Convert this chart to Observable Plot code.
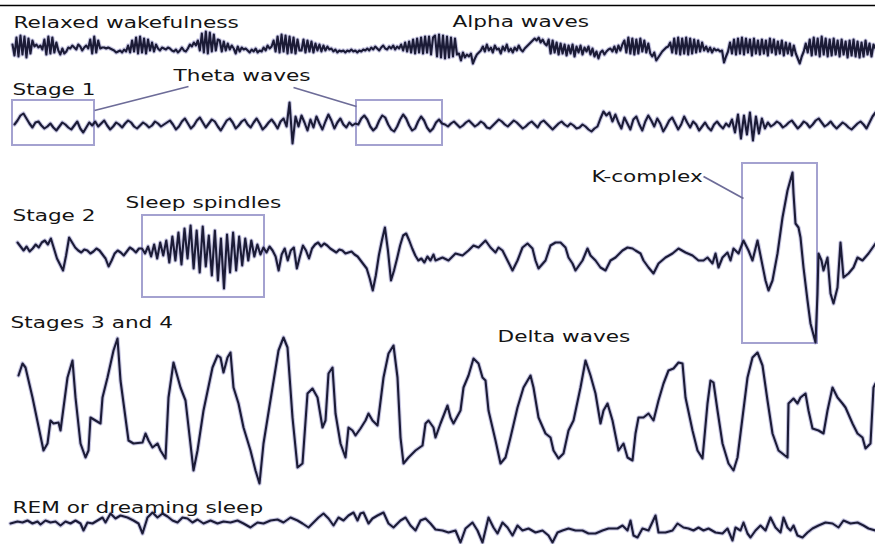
<!DOCTYPE html>
<html><head><meta charset="utf-8">
<script src="https://cdn.jsdelivr.net/npm/d3@7"></script>
<script src="https://cdn.jsdelivr.net/npm/@observablehq/plot@0.6"></script>
<style>html,body{margin:0;padding:0;background:#fff;overflow:hidden}</style>
</head><body><div id="chart"></div>
<script>
// EEG amplitudes (relative to each trace's resting level), uniformly sampled
const alphaWaves = [
4,-7,11,-8,13,-6,12,-9,10,-5,8, 2,4,1,3,-1, 9,-6,12,-5,11,-4,6, -2,-6,0,-5,-3,1,
0,3,1,-1,4,2,-2,1,3,0, 9,-5,12,-4,8, 0,1,1,0,1,0,-1, -2,-4,-3,-2,-4,-1,-3,
3,-4,8,-3,11,-5,12,-4,10,-5,9,-2,6, -3,4,0,-2,1,0,-1,1,0,-2, -3,-1,-4,-2,1,-2,-3,
0,4,2,6,3,8, -2,15,-4,17,-5,16,-3,14,-2,9, 8,-3,7,-2,5,-1,3,0,-5,2,-3,1,-1,0,
-2,-4,-1,-3,0,-4,-2,-3,1,-2,3,0,2, 8,-3,12,-4,14,-3,13,-5,12,-4,11,-5,9,-2,
-2,9,-4,8,-3,7,-4,5,-2,4,-3,3,-2,2,-1,0, -3,-1,-4,-2,-3,-2,-4,-2,-3,-1,-3,-2,-4,-2,-3,-1,-2,
0,-2,1,-1,2,0,-2,1,3,0,-1,2,0,3,-1,2,0, 4,-2,6,-3,7,-4,9,-5,10,-4,11,-5,12,-4,12,-6,11,
13,-8,14,-9,13,-10,12,-9,11,-8,10,-6, -5,-12,-4,-9,-6,-8,-5,-15,-10,-6,-4,-2,
2,-3,4,-2,1,-4,3,-1,0,-5,2,-2,4,-3,0,-4,1,-2,3,-1,-3,0,2, 4,6,8,10,8,11,6,9,5,
3,9,-5,8,-4,6,-6,5,-5,4,-7,3,-5,4,-8,2,-4,3,-6,1,-3,2,-6,0, -8,-3,-10,-4,-2,-6,-3,-1,
0,-3,2,-4,3,-2,4, 8,-4,11,-5,10,-6,9,-5,10,-3,8,-4,5, -5,-8,-4,-12,-9,-6,-3,-1,1,2,
6,-4,10,-5,11,-6,10,-5,11,-6,10,-5,9,-4,8,-3,6, -2,2,-3,1,-4,0,-2,-1,-3,-2, -14,-8,-3,
6,-5,9,-6,10,-5,11,-6,10,-4,9,-7,10,-5,8,-6,9,-5,8,-7,10,-4,9,-6,7,-5,8,-7,6,-5,5,-7,3,-5,
-10,-15,-8,-3,
5,-4,9,-7,11,-6,10,-8,12,-6,10,-8,9,-7,10,-6,8,-8,9,-6,7,-9,8,-7,9,-8,7,-9,6,-8,8,-6,5,-8,4,0
];
const stage1Waves = [
0,4,9,11,6,1,-3,2,3,-1,-4,-2,1,-3,-6,-2,2,0,-3,-5,-1,3,-4,-8,-3,2,-1,
3,-2,1,4,-1,-5,-2,2,0,-3,1,4,2,-2,-4,-1,2,0,-3,-1,3,1,-2,0,2,
4,0,-5,-2,3,6,1,-4,-1,4,7,2,-3,1,5,3,-2,-6,-1,4,6,2,-4,-1,3,5,0,-3,2,6,1,-5,-2,
2,5,1,-4,3,6,-2, 22,-19,8,
-2,9,2,-6,5,-3,8,1,-5,3,10,4,-4,2,6,0,-3,2,-1,1,
0,6,9,5,-2,-6,-3,4,9,7,0,-5,-7,-2,5,10,6,-1,-6,-4,3,8,4,-3,-7,-4,2,5,1,
0,-2,1,3,0,-3,-1,2,4,1,-2,0,3,1,-3,-4,-1,2,5,3,0,-2,1,4,2,-1,-4,-2,1,3,0,-3,2,4,1,-2,-5,-2,1,3,0,-2,1,-1,-4,-3,0,-2,-5,-7,-4,-2,
6,13,
9,12,3,10,2,-4,7,1,-5,5,8,0,-6,3,9,4,-2,6,1,-7,-2,4,7,1,-5,0,8,2,-3,3,0,-6,-2,2,-3,-6,0,3,-1,-4,1,-2,
5,-8,10,-14,9,-10,12,-16,8,-9,6,-4,2,
-2,0,3,1,-3,-1,2,4,0,-4,-1,3,1,-3,0,4,6,2,-2,0,3,-1,-4,-1,2,0,-3,-5,-2,1,3,0,-4,2,8,12
];
const stage2Waves = [
8,4,0,4,-1,2,6,3,8,10,6,12,2,-8,-14,-20,-5, 13,8,3,0,
-2,1,0,-3,-1,2,0,-4,-8,-16,-10,-3,0,-2,-5,-1,3,1,-2,2,
2,-3,4,-6,6,-8,8,-5,10,-12,14,-10,18,-14,22,-8,25,-18,20,-22,24,-16,15,-25,20,-30,12,-38,16,-22,18,-20,14,-15,12,-10,10,-6,6,-4,3,-2,
4,0,-6,-20,-4,2,-10,0,3,-18,-6,5,0,-8,2,6,8,4,7,5,2,0,-2,1,0,-3,-2,-1,-4,-6,-10,-14,
-18,-28,-40,-25,-5,10,23,0,-30,-20,-8,5,15,17,10,2,-5,-10, -8,-12,-6,-10,-4
];
// [time, amplitude] readings
const stage2Tail = [[435,-10],[442,-7],[448,-10],[455,-3],[462,-5],[468,0],[473,5],[478,3],[485,10],[490,3],[495,-2],[498,3],[502,0],[507,-10],[512,-20],[517,-10],[522,3],[527,7],[532,2],[535,-10],[538,-18],[545,-10],[550,5],[555,8],[560,8],[565,3],[568,-7],[572,-13],[575,-20],[582,-10],[587,2],[590,-5],[595,-10],[600,-17],[605,-20],[610,-10],[615,-7],[622,0],[627,3],[632,2],[635,0],[640,-3],[643,-10],[648,-17],[653,-23],[658,-13],[665,-7],[672,-3],[678,2],[685,-2],[692,-5],[698,-10],[703,-10],[707,-7],[712,-13],[715,-3],[718,-17],[722,-7],[727,-2],[730,-10],[733,2],[738,-3],[743,10],[748,0],[752,-10],[757,10],[760,-5],[765,-30],[768,-40],[772,-30],[777,-3],[782,33],[787,60],[792,78],[793,57],[795,27],[798,23],[800,13],[803,-17],[807,-50],[810,-73],[815,-92],[817,-43],[818,-3],[821,-10],[823,-20],[827,-7],[830,-43],[833,-53],[837,-37],[840,8],[843,-27],[848,-23],[853,-17],[857,-7],[862,-10],[868,-3],[875,7]];
const deltaWaves = [[18,35],[22,47],[25,43],[32,13],[43,-40],[47,-33],[50,-10],[53,-13],[58,-12],[60,-20],[67,33],[72,50],[75,13],[80,-33],[85,-47],[88,-40],[90,-7],[95,-10],[100,-13],[102,13],[107,33],[113,60],[117,72],[120,30],[128,-30],[133,-33],[142,-32],[145,-23],[148,-30],[152,-37],[157,-33],[160,-40],[165,-48],[168,13],[173,48],[180,23],[185,10],[193,-60],[197,-40],[203,0],[212,43],[217,55],[220,53],[223,38],[227,53],[230,58],[233,23],[238,7],[243,-17],[250,-40],[255,-60],[259,-73],[263,-33],[272,23],[278,60],[283,73],[287,63],[292,-7],[297,-57],[302,-53],[307,17],[312,22],[317,13],[322,-17],[325,-10],[328,37],[332,43],[335,-3],[340,-33],[345,-47],[348,-17],[352,-20],[355,-25],[360,-18],[365,-10],[368,-3],[372,-10],[377,-15],[383,33],[388,57],[393,65],[397,33],[400,-27],[403,-53],[408,-47],[415,-40],[422,-35],[425,-13],[428,-10],[433,-17],[435,-27],[440,-13],[447,5],[450,-7],[453,-13],[460,0],[463,23],[468,35],[473,52],[478,47],[482,33],[485,30],[488,0],[495,-30],[500,-53],[505,-47],[510,-27],[517,3],[523,23],[530,35],[533,23],[538,-7],[545,-23],[550,-27],[553,-40],[558,-48],[563,-43],[568,-20],[573,-10],[580,23],[585,50],[590,35],[595,17],[600,-13],[603,0],[607,7],[612,-10],[618,-40],[623,-33],[627,-47],[632,-50],[635,-23],[638,-7],[643,-7],[648,-3],[653,-10],[658,10],[663,27],[668,40],[673,42],[678,48],[682,47],[685,13],[692,-20],[697,-40],[702,-48],[707,7],[710,30],[713,28],[717,0],[722,-33],[728,-53],[733,-60],[737,-47],[742,-7],[747,33],[752,53],[757,58],[762,45],[767,10],[772,-23],[778,-40],[787,-47],[788,7],[793,12],[797,7],[800,13],[805,17],[808,0],[812,-18],[818,-20],[823,-23],[827,0],[832,23],[837,13],[842,7],[845,3],[852,-13],[857,-23],[862,-27],[865,-38],[870,-33],[873,23],[875,27]];
const remWaves = [[10,4],[17,6],[22,5],[27,7],[32,4],[37,6],[40,3],[45,7],[50,5],[55,6],[60,2],[65,6],[70,4],[75,7],[80,4],[83,-3],[87,5],[92,4],[97,7],[102,10],[105,5],[110,14],[115,9],[120,12],[127,10],[133,7],[138,4],[142,-6],[147,10],[152,15],[157,10],[162,14],[167,11],[172,7],[177,5],[182,10],[187,9],[192,5],[197,8],[203,4],[210,7],[217,4],[223,6],[230,5],[237,7],[243,4],[250,0],[257,5],[263,4],[270,7],[277,8],[283,5],[290,10],[297,7],[302,4],[308,0],[313,5],[318,10],[323,14],[328,9],[333,2],[338,10],[343,7],[348,12],[353,15],[357,7],[360,14],[363,15],[368,4],[372,9],[377,12],[383,15],[388,4],[393,0],[400,7],[405,10],[410,2],[415,-3],[420,7],[425,9],[430,4],[435,-2],[442,-3],[448,-5],[455,-3],[460,-15],[465,-1],[472,5],[477,-3],[482,-15],[488,10],[493,0],[497,-6],[502,5],[507,0],[512,-8],[517,2],[522,-3],[528,-1],[535,-5],[542,-3],[548,-8],[552,-15],[557,-5],[562,-3],[568,-1],[575,-3],[582,-3],[588,-6],[595,-6],[602,-3],[608,-1],[617,-1],[622,2],[627,-3],[630,7],[633,-8],[637,-10],[642,-1],[648,-3],[655,12],[658,-5],[665,-5],[672,-3],[677,4],[683,0],[688,-1],[693,-3],[698,0],[703,-3],[708,-1],[715,-5],[722,-6],[727,-1],[732,-13],[735,0],[740,-3],[743,5],[747,-6],[750,-10],[755,-3],[760,2],[765,-3],[770,10],[775,0],[780,-5],[783,10],[787,0],[790,-3],[793,2],[797,-8],[802,-10],[807,-5],[812,-1],[818,2],[825,5],[832,4],[838,0],[843,7],[850,4],[857,5],[863,2],[868,-1],[875,-3]];

const labelText = ["Relaxed wakefulness","Alpha waves","Theta waves","Stage 1","Sleep spindles","Stage 2","K-complex","Stages 3 and 4","Delta waves","REM or dreaming sleep"];
const labelX = [13,452,173,12,125,12,591,10,497,12];
const labelY = [27,26,80,94,207,220,181,327,341,512];

const boxes = [
  {x1:12,x2:94,y1:100,y2:145},
  {x1:356,x2:442,y1:100,y2:145},
  {x1:142,x2:264,y1:215,y2:297},
  {x1:742,x2:817,y1:163,y2:343}
];
const connectors = [
  {x1:94,y1:110,x2:188,y2:86},
  {x1:293,y1:87,x2:356,y2:106},
  {x1:703,y1:176,x2:743,y2:198}
];
const topRule = [5];

const rowBase = {alpha:48, stage1:124, stage2:250, delta:410, rem:527};
const pts = [];
function addUniform(row, vals, t0, t1){const s=(t1-t0)/(vals.length-1);vals.forEach((v,i)=>pts.push({row,t:t0+i*s,y:rowBase[row]-v}));}
function addPairs(row, pairs){pairs.forEach(([t,v])=>pts.push({row,t,y:rowBase[row]-v}));}
addUniform("alpha", alphaWaves, 12, 875);
addUniform("stage1", stage1Waves, 14, 875);
addUniform("stage2", stage2Waves, 17, 433);
addPairs("stage2", stage2Tail);
addPairs("delta", deltaWaves);
addPairs("rem", remWaves);

const labels = labelText.map((text,i)=>({text,x:labelX[i],y:labelY[i]}));

const svg = Plot.plot({
  width:875, height:544,
  marginTop:0, marginRight:0, marginBottom:0, marginLeft:0,
  x:{domain:[0,875], axis:null},
  y:{domain:[544,0], axis:null},
  style:{fontFamily:"'DejaVu Sans', sans-serif", fontSize:"16px", background:"white"},
  marks:[
    Plot.ruleY(topRule, {x1:0, x2:875, stroke:"#000", strokeWidth:1.6}),
    Plot.rect(boxes, {x1:"x1", x2:"x2", y1:"y1", y2:"y2", fill:"none", stroke:"#a4a2d0", strokeWidth:2}),
    Plot.link(connectors, {x1:"x1", y1:"y1", x2:"x2", y2:"y2", stroke:"#6d6c98", strokeWidth:1.8}),
    Plot.line(pts, {x:"t", y:"y", z:"row", stroke:"#8f8dc6", strokeWidth:4.2, strokeOpacity:0.5, strokeLinejoin:"round"}),
    Plot.line(pts, {x:"t", y:"y", z:"row", stroke:"#1b1b36", strokeWidth:2.1, strokeLinejoin:"round", strokeLinecap:"round"}),
    Plot.text(labels, {x:"x", y:"y", text:"text", textAnchor:"start", lineAnchor:"bottom", fill:"#141414", fontSize:16})
  ]
});
document.getElementById("chart").append(svg);
svg.querySelectorAll('g[aria-label="text"] text').forEach(t=>{
  const w=t.getComputedTextLength();
  t.setAttribute("textLength",(w*1.35).toFixed(1));
  t.setAttribute("lengthAdjust","spacingAndGlyphs");
});
</script></body></html>
